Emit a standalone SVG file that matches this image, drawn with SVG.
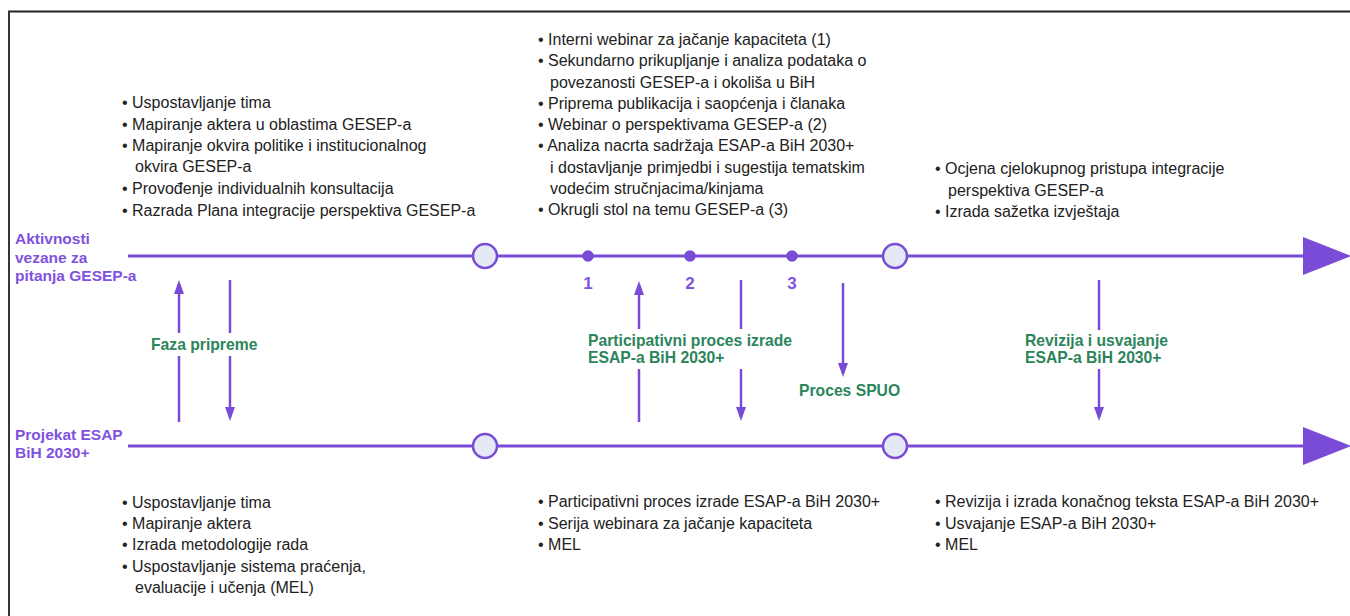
<svg xmlns="http://www.w3.org/2000/svg" width="1350" height="616" viewBox="0 0 1350 616">
<style>
.t{font-family:"Liberation Sans",Arial,sans-serif;font-size:16px;fill:#222}
.lane{font-family:"Liberation Sans",Arial,sans-serif;font-size:15.5px;font-weight:bold;fill:#7f52de}
.num{font-family:"Liberation Sans",Arial,sans-serif;font-size:17px;font-weight:bold;fill:#7f52de;text-anchor:middle}
.ph{font-family:"Liberation Sans",Arial,sans-serif;font-size:15.7px;font-weight:bold;fill:#2c855b}
.tl{stroke:#7a4bd6;stroke-width:3;fill:none}
.va{stroke:#7a4bd6;stroke-width:2.5;fill:none}
.ms{fill:#e4e9f5;stroke:#7a4bd6;stroke-width:2.5}
.dot{fill:#7a4bd6}
.head{fill:#7a4bd6}
</style>
<defs>
<marker id="ah" markerUnits="userSpaceOnUse" markerWidth="14" markerHeight="10" refX="10" refY="5" orient="auto">
<path d="M0,0 L14,5 L0,10 z" fill="#7a4bd6"/>
</marker>
</defs>
<rect width="1350" height="616" fill="#fff"/>
<path d="M9,616 V11.5 H1350" fill="none" stroke="#222" stroke-width="1.8"/>

<g id="connectors">
<line class="tl" x1="128" y1="256" x2="1306" y2="256"/>
<polygon class="head" points="1303,237 1351,256 1303,275"/>
<line class="tl" x1="128" y1="446" x2="1306" y2="446"/>
<polygon class="head" points="1303,427 1351,446 1303,465"/>

<line class="va" x1="179" y1="422" x2="179" y2="356"/>
<line class="va" x1="179" y1="333" x2="179" y2="284" marker-end="url(#ah)"/>
<line class="va" x1="230" y1="280" x2="230" y2="333"/>
<line class="va" x1="230" y1="356" x2="230" y2="417" marker-end="url(#ah)"/>

<line class="va" x1="639" y1="422" x2="639" y2="369"/>
<line class="va" x1="639" y1="329" x2="639" y2="285" marker-end="url(#ah)"/>
<line class="va" x1="741" y1="280" x2="741" y2="329"/>
<line class="va" x1="741" y1="369" x2="741" y2="417" marker-end="url(#ah)"/>

<line class="va" x1="843" y1="283" x2="843" y2="373" marker-end="url(#ah)"/>

<line class="va" x1="1099" y1="280" x2="1099" y2="330"/>
<line class="va" x1="1099" y1="369" x2="1099" y2="417" marker-end="url(#ah)"/>
</g>

<g id="lane-gesep">
<text class="lane" x="15" y="244">Aktivnosti</text>
<text class="lane" x="15" y="263">vezane za</text>
<text class="lane" x="15" y="281">pitanja GESEP-a</text>
</g>
<g id="lane-esap">
<text class="lane" x="15" y="440">Projekat ESAP</text>
<text class="lane" x="15" y="458">BiH 2030+</text>
</g>

<g id="milestone-top-1"><circle class="ms" cx="485" cy="256" r="12"/></g>
<g id="milestone-top-2"><circle class="ms" cx="895" cy="256" r="12"/></g>
<g id="milestone-bottom-1"><circle class="ms" cx="485" cy="446" r="12"/></g>
<g id="milestone-bottom-2"><circle class="ms" cx="895" cy="446" r="12"/></g>

<g id="event-1"><circle class="dot" cx="588" cy="256" r="5.8"/><text class="num" x="588" y="289">1</text></g>
<g id="event-2"><circle class="dot" cx="690" cy="256" r="5.8"/><text class="num" x="690" y="289">2</text></g>
<g id="event-3"><circle class="dot" cx="792" cy="256" r="5.8"/><text class="num" x="792" y="289">3</text></g>

<g id="phase-priprema"><text class="ph" x="151" y="350">Faza pripreme</text></g>
<g id="phase-participativni">
<text class="ph" x="588" y="346">Participativni proces izrade</text>
<text class="ph" x="588" y="363">ESAP-a BiH 2030+</text>
</g>
<g id="phase-spuo"><text class="ph" x="799" y="396">Proces SPUO</text></g>
<g id="phase-revizija">
<text class="ph" x="1025" y="346">Revizija i usvajanje</text>
<text class="ph" x="1025" y="363">ESAP-a BiH 2030+</text>
</g>

<g id="list-top-1">
<text class="t" x="122" y="108">• Uspostavljanje tima</text>
<text class="t" x="122" y="130">• Mapiranje aktera u oblastima GESEP-a</text>
<text class="t" x="122" y="151">• Mapiranje okvira politike i institucionalnog</text>
<text class="t" x="135" y="172">okvira GESEP-a</text>
<text class="t" x="122" y="194">• Provođenje individualnih konsultacija</text>
<text class="t" x="122" y="216">• Razrada Plana integracije perspektiva GESEP-a</text>
</g>

<g id="list-top-2">
<text class="t" x="538" y="45">• Interni webinar za jačanje kapaciteta (1)</text>
<text class="t" x="538" y="66">• Sekundarno prikupljanje i analiza podataka o</text>
<text class="t" x="550" y="87.5">povezanosti GESEP-a i okoliša u BiH</text>
<text class="t" x="538" y="109">• Priprema publikacija i saopćenja i članaka</text>
<text class="t" x="538" y="130">• Webinar o perspektivama GESEP-a (2)</text>
<text class="t" x="538" y="151">• Analiza nacrta sadržaja ESAP-a BiH 2030+</text>
<text class="t" x="550" y="172.5">i dostavljanje primjedbi i sugestija tematskim</text>
<text class="t" x="550" y="194">vodećim stručnjacima/kinjama</text>
<text class="t" x="538" y="215">• Okrugli stol na temu GESEP-a (3)</text>
</g>

<g id="list-top-3">
<text class="t" x="935" y="174">• Ocjena cjelokupnog pristupa integracije</text>
<text class="t" x="948" y="196">perspektiva GESEP-a</text>
<text class="t" x="935" y="217">• Izrada sažetka izvještaja</text>
</g>

<g id="list-bottom-1">
<text class="t" x="122" y="508">• Uspostavljanje tima</text>
<text class="t" x="122" y="529">• Mapiranje aktera</text>
<text class="t" x="122" y="550">• Izrada metodologije rada</text>
<text class="t" x="122" y="572">• Uspostavljanje sistema praćenja,</text>
<text class="t" x="135" y="593">evaluacije i učenja (MEL)</text>
</g>

<g id="list-bottom-2">
<text class="t" x="538" y="507">• Participativni proces izrade ESAP-a BiH 2030+</text>
<text class="t" x="538" y="529">• Serija webinara za jačanje kapaciteta</text>
<text class="t" x="538" y="550">• MEL</text>
</g>

<g id="list-bottom-3">
<text class="t" x="935" y="507">• Revizija i izrada konačnog teksta ESAP-a BiH 2030+</text>
<text class="t" x="935" y="529">• Usvajanje ESAP-a BiH 2030+</text>
<text class="t" x="935" y="550">• MEL</text>
</g>
</svg>
